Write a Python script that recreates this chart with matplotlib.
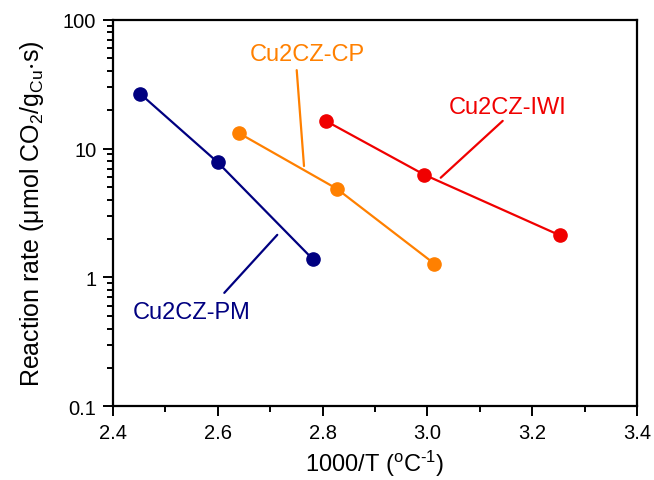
import matplotlib
matplotlib.use("Agg")
import matplotlib.pyplot as plt
from matplotlib.ticker import FixedLocator, LogLocator, NullFormatter, FixedFormatter

plt.rcParams['font.family'] = ['Liberation Sans', 'DejaVu Sans']
plt.rcParams['mathtext.fontset'] = 'custom'
plt.rcParams['mathtext.rm'] = 'Liberation Sans'
plt.rcParams['mathtext.it'] = 'Liberation Sans:italic'
plt.rcParams['mathtext.bf'] = 'Liberation Sans:bold'

# Data
pm_x = [2.452, 2.600, 2.781]
pm_y = [26.6, 7.81, 1.39]
cp_x = [2.640, 2.827, 3.013]
cp_y = [13.2, 4.88, 1.28]
iwi_x = [2.806, 2.994, 3.253]
iwi_y = [16.4, 6.27, 2.12]

series_names = ["Cu2CZ-PM", "Cu2CZ-CP", "Cu2CZ-IWI"]
colors = ["#000080", "#FF8000", "#F00000"]

xticks = [2.4, 2.6, 2.8, 3.0, 3.2, 3.4]
xtick_labels = ["2.4", "2.6", "2.8", "3.0", "3.2", "3.4"]
yticks = [0.1, 1, 10, 100]
ytick_labels = ["0.1", "1", "10", "100"]

fig = plt.figure(figsize=(6.54, 4.81), dpi=100)
ax = fig.add_axes([113/654, 1 - 407.3/481, (637-113)/654, (407.3-20.7)/481])

for xs, ys, c in zip([pm_x, cp_x, iwi_x], [pm_y, cp_y, iwi_y], colors):
    ax.plot(xs, ys, '-o', color=c, lw=1.6, ms=9.5, mec=c, mfc=c)

ax.set_yscale('log')
ax.set_xlim(2.4, 3.4)
ax.set_ylim(0.1, 100)

ax.xaxis.set_major_locator(FixedLocator(xticks))
ax.xaxis.set_major_formatter(FixedFormatter(xtick_labels))
ax.xaxis.set_minor_locator(FixedLocator([2.5, 2.7, 2.9, 3.1, 3.3]))
ax.yaxis.set_major_locator(FixedLocator(yticks))
ax.yaxis.set_major_formatter(FixedFormatter(ytick_labels))
ax.yaxis.set_minor_locator(LogLocator(base=10, subs=range(2, 10)))
ax.yaxis.set_minor_formatter(NullFormatter())

for s in ax.spines.values():
    s.set_linewidth(1.6)
ax.tick_params(which='both', direction='out', top=False, right=False, width=1.4)
ax.tick_params(which='major', length=7, labelsize=14.5, pad=5)
ax.tick_params(which='minor', length=4)

ax.set_xlabel(r"1000/T ($\mathregular{^{o}}$C$\mathregular{^{\text{-}1}}$)", fontsize=17, labelpad=4)
ax.set_ylabel(r"Reaction rate ($\mathregular{\mu}$mol CO$\mathregular{_2}$/g$\mathregular{_{Cu}}$$\mathregular{\cdot}$s)",
              fontsize=18, labelpad=12)

# Annotations
ax.annotate("", xy=(2.7135, 2.14), xytext=(2.6124, 0.759),
            arrowprops=dict(arrowstyle='-', color=colors[0], lw=1.6, shrinkA=0, shrinkB=0))
ax.text(2.5508, 0.541, series_names[0], color=colors[0], fontsize=17, ha='center', va='center')

ax.annotate("", xy=(2.7645, 7.32), xytext=(2.7506, 40.6),
            arrowprops=dict(arrowstyle='-', color=colors[1], lw=1.6, shrinkA=0, shrinkB=0))
ax.text(2.7702, 54.6, series_names[1], color=colors[1], fontsize=17, ha='center', va='center')

ax.annotate("", xy=(3.0254, 5.94), xytext=(3.1437, 16.4),
            arrowprops=dict(arrowstyle='-', color=colors[2], lw=1.6, shrinkA=0, shrinkB=0))
ax.text(3.1538, 21.2, series_names[2], color=colors[2], fontsize=17, ha='center', va='center')

fig.savefig("out.png", dpi=100)
